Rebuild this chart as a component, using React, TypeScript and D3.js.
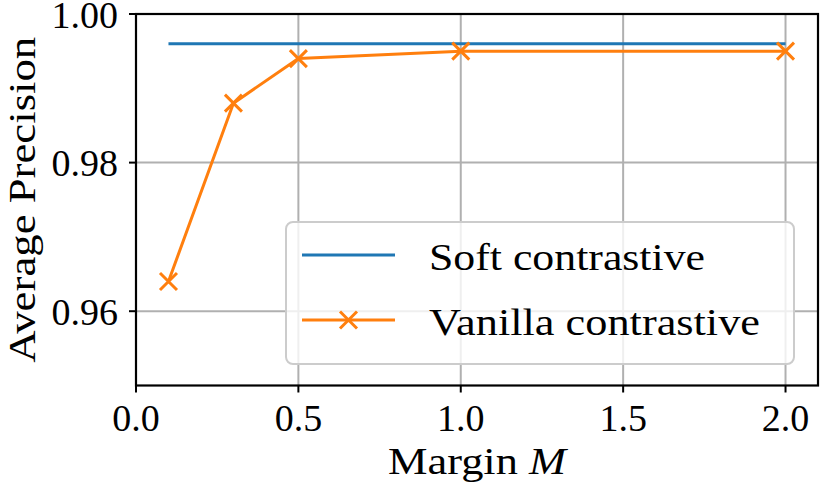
import * as d3 from "d3";

// data
const margins = [0.1, 0.3, 0.5, 1.0, 2.0];
const softAP = [0.996, 0.996, 0.996, 0.996, 0.996];
const vanillaAP = [0.964, 0.988, 0.994, 0.995, 0.995];
const xTicks = [0.0, 0.5, 1.0, 1.5, 2.0];
const yTicks = [0.96, 0.98, 1.0];
const seriesNames = ["Soft contrastive", "Vanilla contrastive"];

const W = 822;
const H = 491;
const font = "'Liberation Serif', 'DejaVu Serif', serif";
const fs = 38;

export default function App() {
  const left = 136, right = 818, top = 14, bottom = 385.5;
  const x = d3.scaleLinear().domain([0, 2.1]).range([left, right]);
  const y = d3.scaleLinear().domain([0.95, 1.0]).range([bottom, top]);

  const line = d3
    .line<number>()
    .x((_, i) => x(margins[i]))
    .y((d) => y(d));

  const cross = (cx: number, cy: number, k: string) => {
    const r = 8.5;
    return (
      <path
        key={k}
        d={`M${cx - r},${cy - r}L${cx + r},${cy + r}M${cx - r},${cy + r}L${cx + r},${cy - r}`}
        stroke="#ff7f0e"
        strokeWidth={3}
        fill="none"
      />
    );
  };

  const lg = { x0: 286, y0: 222, x1: 794, y1: 364 };
  const rowY = [255, 320];

  return (
    <div style={{ position: "fixed", left: 0, top: 0 }}>
      <svg width={W} height={H} style={{ display: "block", background: "#fff" }}>
        {/* grid */}
        {xTicks.map((t) => (
          <line key={"gx" + t} x1={x(t)} x2={x(t)} y1={top} y2={bottom} stroke="#b0b0b0" strokeWidth={2} />
        ))}
        {yTicks.map((t) => (
          <line key={"gy" + t} x1={left} x2={right} y1={y(t)} y2={y(t)} stroke="#b0b0b0" strokeWidth={2} />
        ))}

        {/* series */}
        <path d={line(softAP) || ""} stroke="#1f77b4" strokeWidth={3} fill="none" />
        <path d={line(vanillaAP) || ""} stroke="#ff7f0e" strokeWidth={3} fill="none" strokeLinejoin="round" />
        {vanillaAP.map((v, i) => cross(x(margins[i]), y(v), "m" + i))}

        {/* frame */}
        <rect x={left} y={top} width={right - left} height={bottom - top} fill="none" stroke="#000" strokeWidth={2.2} />

        {/* ticks */}
        {xTicks.map((t) => (
          <g key={"tx" + t}>
            <line x1={x(t)} x2={x(t)} y1={bottom} y2={bottom + 7} stroke="#000" strokeWidth={2} />
            <text x={x(t)} y={431} textAnchor="middle" fontFamily={font} fontSize={fs}>
              {t.toFixed(1)}
            </text>
          </g>
        ))}
        {yTicks.map((t) => (
          <g key={"ty" + t}>
            <line x1={left - 7} x2={left} y1={y(t)} y2={y(t)} stroke="#000" strokeWidth={2} />
            <text x={118} y={y(t) + 13.5} textAnchor="end" fontFamily={font} fontSize={fs}>
              {t.toFixed(2)}
            </text>
          </g>
        ))}

        {/* axis labels */}
        <text x={(left + right) / 2} y={474} textAnchor="middle" fontFamily={font} fontSize={fs} textLength={178} lengthAdjust="spacingAndGlyphs">
          Margin <tspan fontStyle="italic">M</tspan>
        </text>
        <text
          transform={`translate(35,${(top + bottom) / 2}) rotate(-90)`}
          textAnchor="middle"
          fontFamily={font}
          fontSize={fs}
          textLength={326}
          lengthAdjust="spacingAndGlyphs"
        >
          Average Precision
        </text>

        {/* legend */}
        <rect
          x={lg.x0}
          y={lg.y0}
          width={lg.x1 - lg.x0}
          height={lg.y1 - lg.y0}
          rx={7}
          fill="#fff"
          fillOpacity={0.8}
          stroke="#cccccc"
          strokeWidth={2}
        />
        <line x1={302} x2={395} y1={rowY[0]} y2={rowY[0]} stroke="#1f77b4" strokeWidth={3} />
        <line x1={302} x2={395} y1={rowY[1]} y2={rowY[1]} stroke="#ff7f0e" strokeWidth={3} />
        {cross(348.5, rowY[1], "lgm")}
        <text x={429} y={rowY[0] + 15} fontFamily={font} fontSize={fs} textLength={276} lengthAdjust="spacingAndGlyphs">
          {seriesNames[0]}
        </text>
        <text x={429} y={rowY[1] + 15} fontFamily={font} fontSize={fs} textLength={331} lengthAdjust="spacingAndGlyphs">
          {seriesNames[1]}
        </text>
      </svg>
    </div>
  );
}
